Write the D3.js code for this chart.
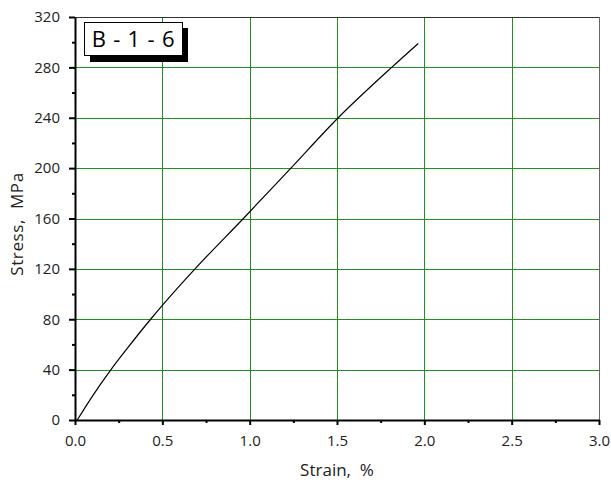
<!DOCTYPE html>
<html>
<head>
<meta charset="utf-8">
<script src="https://cdn.jsdelivr.net/npm/d3@7"></script>
<style>
  body { margin: 0; background: #fff; }
  text { font-family: "Open Sans", "Noto Sans", sans-serif; }
</style>
</head>
<body>
<div id="chart"></div>
<script>
// stress-strain curve
var strain = [0.013, 0.1, 0.206, 0.3, 0.433, 0.5, 0.687, 0.964, 1.236, 1.507, 1.813, 1.965];
var stress = [0, 19, 40, 57, 80, 91, 120, 160, 200, 240, 280, 299];

var xTicks = [0, 0.5, 1.0, 1.5, 2.0, 2.5, 3.0];
var xMinor = [0.25, 0.75, 1.25, 1.75, 2.25, 2.75];
var yTicks = [0, 40, 80, 120, 160, 200, 240, 280, 320];
var yMinor = [20, 60, 100, 140, 180, 220, 260, 300];
var label = "B - 1 - 6";

var width = 611, height = 484;
var pLeft = 75, pRight = 599, pTop = 17, pBottom = 420;

var x = d3.scaleLinear().domain([0, 3]).range([pLeft, pRight]);
var y = d3.scaleLinear().domain([0, 320]).range([pBottom, pTop]);

var svg = d3.select("#chart").append("svg")
    .attr("width", width)
    .attr("height", height);

// grid
var gridColor = "#1f8f1f";
svg.append("g").selectAll("line")
    .data(xTicks.slice(1, -1))
    .enter().append("line")
    .attr("x1", function(d) { return Math.round(x(d)) + 0.5; })
    .attr("x2", function(d) { return Math.round(x(d)) + 0.5; })
    .attr("y1", pTop).attr("y2", pBottom)
    .attr("stroke", gridColor).attr("stroke-width", 1);

svg.append("g").selectAll("line")
    .data(yTicks.slice(1, -1))
    .enter().append("line")
    .attr("y1", function(d) { return Math.round(y(d)) + 0.5; })
    .attr("y2", function(d) { return Math.round(y(d)) + 0.5; })
    .attr("x1", pLeft).attr("x2", pRight)
    .attr("stroke", gridColor).attr("stroke-width", 1);

// frame top/right
svg.append("line")
    .attr("x1", pLeft).attr("x2", pRight)
    .attr("y1", pTop + 0.5).attr("y2", pTop + 0.5)
    .attr("stroke", "#333");
svg.append("line")
    .attr("x1", pRight + 0.5).attr("x2", pRight + 0.5)
    .attr("y1", pTop).attr("y2", pBottom)
    .attr("stroke", "#666");

// axes
svg.append("g")
    .attr("transform", "translate(0," + pBottom + ")")
    .call(d3.axisBottom(x).tickValues(xTicks).tickFormat(d3.format(".1f"))
        .tickSize(5).tickSizeOuter(0).tickPadding(10));
svg.append("g")
    .attr("transform", "translate(0," + pBottom + ")")
    .call(d3.axisBottom(x).tickValues(xMinor).tickFormat("").tickSize(3).tickSizeOuter(0))
    .select(".domain").remove();

svg.append("g")
    .attr("transform", "translate(" + pLeft + ",0)")
    .call(d3.axisLeft(y).tickValues(yTicks).tickSize(6).tickSizeOuter(0).tickPadding(9));
svg.append("g")
    .attr("transform", "translate(" + pLeft + ",0)")
    .call(d3.axisLeft(y).tickValues(yMinor).tickFormat("").tickSize(3).tickSizeOuter(0))
    .select(".domain").remove();

svg.selectAll(".domain").attr("stroke", "#000").attr("stroke-width", 2);
svg.selectAll(".tick line").attr("stroke", "#000").attr("stroke-width", 2);
svg.selectAll(".tick text")
    .attr("font-size", 15)
    .attr("fill", "#222")
    .style("font-family", '"Open Sans", "Noto Sans", sans-serif');

// curve
var pts = strain.map(function(d, i) { return [d, stress[i]]; });
svg.append("path")
    .datum(pts)
    .attr("fill", "none")
    .attr("stroke", "#000")
    .attr("stroke-width", 1.2)
    .attr("d", d3.line()
        .x(function(d) { return x(d[0]); })
        .y(function(d) { return y(d[1]); })
        .curve(d3.curveMonotoneX));

// axis titles
svg.append("text")
    .attr("x", 337)
    .attr("y", 476)
    .attr("text-anchor", "middle")
    .attr("font-size", 17)
    .attr("fill", "#222")
    .style("white-space", "pre")
    .text("Strain,  %");

svg.append("text")
    .attr("transform", "translate(23,224) rotate(-90)")
    .attr("text-anchor", "middle")
    .attr("font-size", 17)
    .attr("letter-spacing", 0.6)
    .attr("fill", "#222")
    .style("white-space", "pre")
    .text("Stress,  MPa");

// label box with shadow
var lb = svg.append("g");
lb.append("rect")
    .attr("x", 90).attr("y", 28).attr("width", 98).attr("height", 34)
    .attr("fill", "#000");
lb.append("rect")
    .attr("x", 84.5).attr("y", 22.5).attr("width", 98).attr("height", 33)
    .attr("fill", "#fff").attr("stroke", "#000").attr("stroke-width", 1);
lb.append("text")
    .attr("x", 133.5).attr("y", 47)
    .attr("text-anchor", "middle")
    .attr("font-size", 22)
    .attr("letter-spacing", 0.8)
    .attr("fill", "#000")
    .text(label);
</script>
</body>
</html>
